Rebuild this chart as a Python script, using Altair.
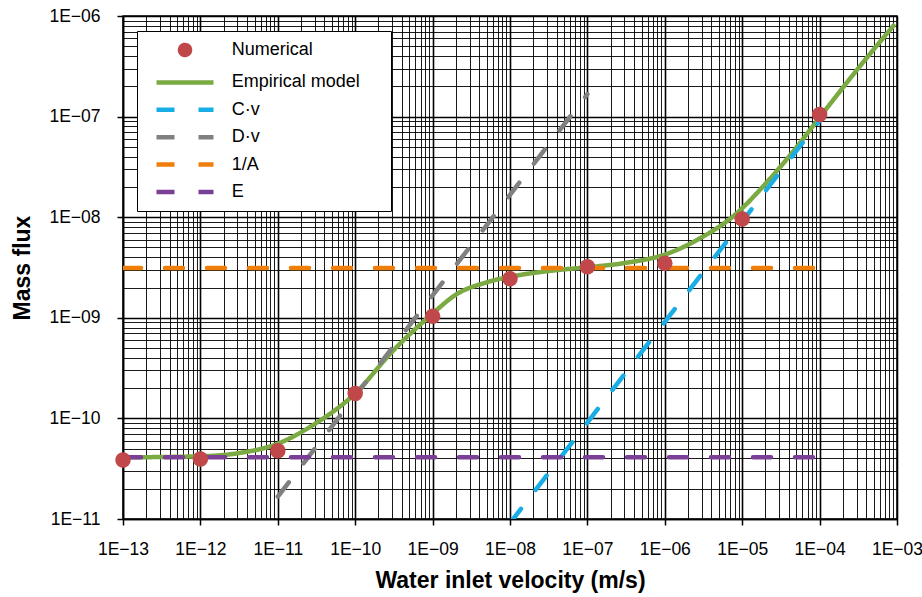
import altair as alt
import pandas as pd

FONT = "Liberation Sans"

# ---- data ----
series_order = ["Numerical", "Empirical model", "C·v", "D·v", "1/A", "E"]
series_colors = ["#C0474A", "#7BAA43", "#19ADE6", "#808080", "#EF7F0A", "#7B3F96"]

num_v = [1e-13, 1e-12, 1e-11, 1e-10, 1e-9, 1e-8, 1e-7, 1e-6, 1e-5, 1e-4]
num_flux = [3.86e-11, 3.95e-11, 4.78e-11, 1.77e-10, 1.035e-9, 2.45e-9, 3.22e-9, 3.48e-9, 9.6e-9, 1.05e-7]

emp_v = [1e-13, 1e-12, 3e-12, 1e-11, 3e-11, 1e-10, 3e-10, 1e-9, 2e-9, 5e-9, 1.3e-8, 3.6e-8,
         1e-7, 3e-7, 1e-6, 3e-6, 8e-6, 2e-5, 4.5e-5, 1e-4, 3.3e-4, 9e-4]
emp_flux = [4.1e-11, 4.2e-11, 4.5e-11, 5.6e-11, 8.8e-11, 1.77e-10, 4.6e-10, 1.1e-9, 1.7e-9, 2.25e-9,
            2.65e-9, 2.95e-9, 3.18e-9, 3.5e-9, 4.25e-9, 6.3e-9, 1.05e-8, 2.15e-8, 4.45e-8, 9.8e-8,
            3.15e-7, 8.0e-7]

cv_v = [1e-8, 1e-4]
cv_flux = [9.1e-12, 9.1e-8]
dv_v = [1e-11, 1e-7]
dv_flux = [1.67e-11, 1.67e-7]
inva_v = [1e-13, 1e-4]
inva_flux = [3.13e-9, 3.13e-9]
e_v = [1e-13, 1e-4]
e_flux = [4.1e-11, 4.1e-11]

x_decades = [1e-13, 1e-12, 1e-11, 1e-10, 1e-9, 1e-8, 1e-7, 1e-6, 1e-5, 1e-4, 1e-3]
y_decades = [1e-11, 1e-10, 1e-9, 1e-8, 1e-7, 1e-6]

# ---- tables ----
points_df = pd.DataFrame({"v": num_v, "flux": num_flux, "series": "Numerical"})
lines_df = pd.concat([
    pd.DataFrame({"v": emp_v, "flux": emp_flux, "series": "Empirical model"}),
    pd.DataFrame({"v": cv_v, "flux": cv_flux, "series": "C·v"}),
    pd.DataFrame({"v": dv_v, "flux": dv_flux, "series": "D·v"}),
    pd.DataFrame({"v": inva_v, "flux": inva_flux, "series": "1/A"}),
    pd.DataFrame({"v": e_v, "flux": e_flux, "series": "E"}),
], ignore_index=True)

x_grid = [m * d for d in x_decades[:-1] for m in range(1, 10)] + [x_decades[-1]]
y_grid = [m * d for d in y_decades[:-1] for m in range(1, 10)] + [y_decades[-1]]

decade_test = "abs(log(datum.value)/LN10 - round(log(datum.value)/LN10)) < 0.001"
label_expr = ("(" + decade_test + ") ? ('1E\u2212' + (abs(round(log(datum.value)/LN10)) < 10 ? '0' : '')"
              " + abs(round(log(datum.value)/LN10))) : ''")


def make_axis(values, title, label_pad, title_pad):
    return alt.Axis(
        values=values, labelExpr=label_expr, labelOverlap=False, labelFlush=False,
        tickOpacity={"condition": {"test": decade_test, "value": 1}, "value": 0},
        tickSize=6, tickColor="black", tickWidth=1.5,
        domainColor="black", domainWidth=1.5,
        gridColor="black", gridOpacity=1,
        gridWidth={"condition": {"test": decade_test, "value": 1.6}, "value": 0.9},
        labelFont=FONT, labelFontSize=17.5, labelColor="black", labelPadding=label_pad,
        title=title, titleFont=FONT, titleFontSize=23, titleFontWeight="bold",
        titleColor="black", titlePadding=title_pad,
    )


x_enc = alt.X("v:Q", scale=alt.Scale(type="log", domain=[1e-13, 1e-3], nice=False),
              axis=make_axis(x_grid, "Water inlet velocity (m/s)", 15, 12))
y_enc = alt.Y("flux:Q", scale=alt.Scale(type="log", domain=[1e-11, 1e-6], nice=False),
              axis=make_axis(y_grid, "Mass flux", 17, 14))

legend = alt.Legend(
    title=None, orient="none", legendX=14, legendY=15, direction="vertical",
    padding=10, strokeColor="black", fillColor="white",
    labelFont=FONT, labelFontSize=18, labelColor="black", labelLimit=400,
    labelOffset=37.7, symbolOffset=29, symbolSize=100, symbolStrokeWidth=4.5,
    rowPadding=9.4,
)

# legend glyph for the line series (the trailing move-to widens the legend box only)
line_path = "M-5.7,0H5.7M37.3,0"
series_shapes = ["circle", line_path, line_path, line_path, line_path, line_path]
series_dashes = [[1, 0], [1, 0], [18, 24], [18, 24], [18, 24], [18, 24]]

color_enc = alt.Color("series:N", scale=alt.Scale(domain=series_order, range=series_colors),
                      legend=legend)

lines = alt.Chart(lines_df).mark_line(
    strokeWidth=4.5, strokeCap="round", clip=True, interpolate="monotone"
).encode(
    x=x_enc, y=y_enc, color=color_enc,
    strokeDash=alt.StrokeDash("series:N", scale=alt.Scale(domain=series_order, range=series_dashes),
                              legend=legend),
)

points = alt.Chart(points_df).mark_point(
    filled=True, size=240, opacity=1, strokeWidth=0
).encode(
    x=x_enc, y=y_enc, color=color_enc,
    shape=alt.Shape("series:N", scale=alt.Scale(domain=series_order, range=series_shapes),
                    legend=legend),
)

chart = alt.layer(lines, points).properties(
    width=774, height=503,
    padding={"left": 123, "top": 16, "right": 25, "bottom": 78},
    autosize=alt.AutoSizeParams(type="none"),
    background="white",
).configure_view(stroke="black", strokeWidth=1.5)

chart.save("out.html", embed_options={"renderer": "svg", "actions": False})
